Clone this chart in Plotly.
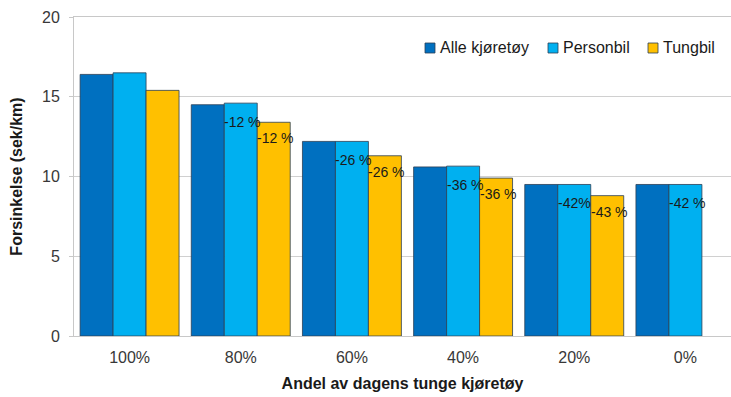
import plotly.graph_objects as go

categories = ["100%", "80%", "60%", "40%", "20%", "0%"]
series_names = ["Alle kjøretøy", "Personbil", "Tungbil"]
alle = [16.4, 14.5, 12.2, 10.6, 9.5, 9.5]
personbil = [16.5, 14.6, 12.2, 10.65, 9.5, 9.5]
tungbil = [15.4, 13.4, 11.3, 9.9, 8.8, None]
personbil_labels = ["", "-12 %", "-26 %", "-36 %", "-42%", "-42 %"]
tungbil_labels = ["", "-12 %", "-26 %", "-36 %", "-43 %", ""]

colors = ["#0070C0", "#00B0F0", "#FFC000"]
FONT = "Liberation Sans, Arial, sans-serif"

W, H = 731, 397
ML, MR, MT, MB = 74, 0, 17, 61
PW, PH = W - ML - MR, H - MT - MB


def px_x(x):
    return (x - ML) / PW


def px_y(y):
    return (H - MB - y) / PH


fig = go.Figure()
for name, vals, col in zip(series_names, [alle, personbil, tungbil], colors):
    fig.add_trace(go.Bar(
        x=categories, y=vals, name=name, showlegend=False,
        marker=dict(color=col, line=dict(color="#2b3f55", width=0.8)),
    ))

bargap = 0.11
barw = (1 - bargap) / 3
annotations = []
shapes = []
for i, (lab, v) in enumerate(zip(personbil_labels, personbil)):
    if lab and v is not None:
        annotations.append(dict(x=i - barw / 2, y=v, xref="x", yref="y", text=lab,
                                showarrow=False, xanchor="left", yanchor="middle",
                                xshift=-2, yshift=-19,
                                font=dict(family=FONT, size=14, color="#1a1a1a")))
for i, (lab, v) in enumerate(zip(tungbil_labels, tungbil)):
    if lab and v is not None:
        annotations.append(dict(x=i + barw / 2, y=v, xref="x", yref="y", text=lab,
                                showarrow=False, xanchor="left", yanchor="middle",
                                xshift=-2, yshift=-16,
                                font=dict(family=FONT, size=14, color="#1a1a1a")))

# custom legend
legend_x = [425, 548, 648]
ly = 48
for name, col, lx in zip(series_names, colors, legend_x):
    shapes.append(dict(type="rect", xref="paper", yref="paper",
                       x0=px_x(lx), x1=px_x(lx + 10), y0=px_y(ly + 5), y1=px_y(ly - 5),
                       fillcolor=col, line=dict(color="#2b3f55", width=0.8)))
    annotations.append(dict(x=px_x(lx + 13), y=px_y(ly), xref="paper", yref="paper",
                            text=name, showarrow=False, xanchor="left", yanchor="middle",
                            font=dict(family=FONT, size=16, color="#1a1a1a")))

fig.update_layout(
    width=W, height=H,
    margin=dict(l=ML, r=MR, t=MT, b=MB, autoexpand=False),
    paper_bgcolor="white", plot_bgcolor="white",
    barmode="group", bargap=bargap, bargroupgap=0,
    font=dict(family=FONT, size=16, color="#404040"),
    showlegend=False,
    annotations=annotations,
    shapes=shapes,
    xaxis=dict(type="category", range=[-0.5, 5.41], showline=True, linecolor="#C8C8C8",
               linewidth=1, mirror=True, ticks="", showgrid=False, automargin=False,
               ticklabelstandoff=7,
               tickfont=dict(family=FONT, size=16, color="#383838"),
               title=dict(text="<b>Andel av dagens tunge kjøretøy</b>", standoff=12,
                          font=dict(family=FONT, size=16, color="#1a1a1a"))),
    yaxis=dict(range=[0, 20], dtick=5, showline=True, linecolor="#C8C8C8", linewidth=1,
               ticks="outside", ticklen=4, tickcolor="#C8C8C8",
               showgrid=True, gridcolor="#D0D0D0", zeroline=False, automargin=False,
               ticklabelstandoff=6,
               tickfont=dict(family=FONT, size=16, color="#383838"),
               title=dict(text="<b>Forsinkelse (sek/km)</b>", standoff=15,
                          font=dict(family=FONT, size=16, color="#1a1a1a"))),
)

fig.write_html("out.html", config={"displayModeBar": False},
               post_script="document.body.style.margin='0';")
